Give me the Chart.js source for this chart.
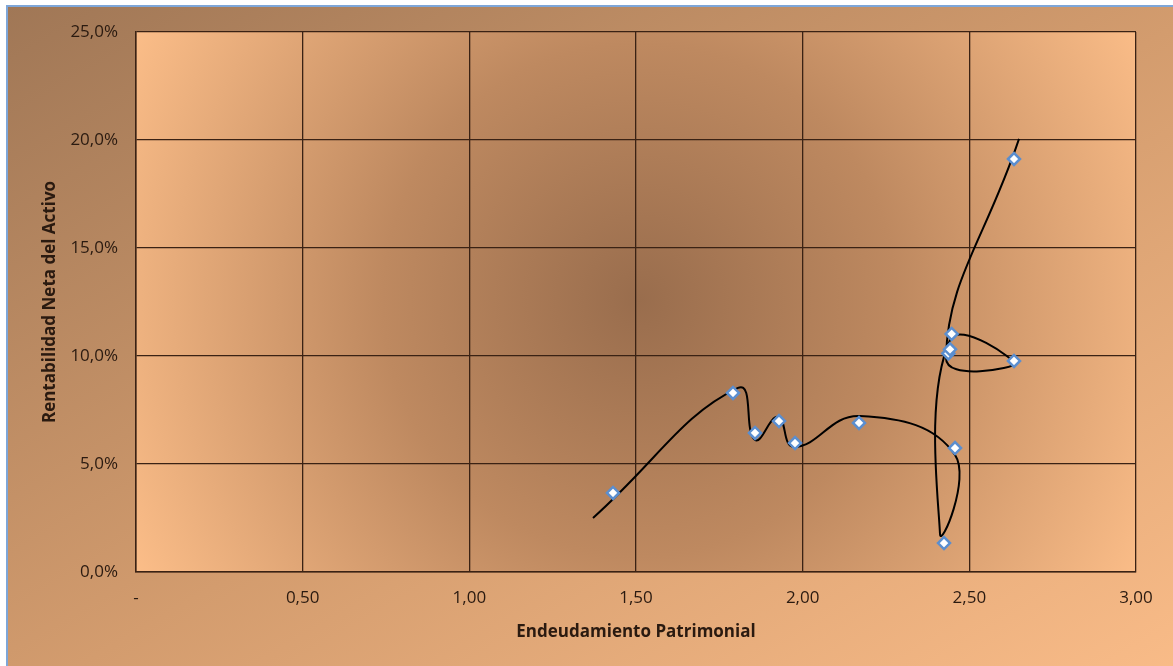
<!DOCTYPE html>
<html>
<head>
<meta charset="utf-8">
<script src="https://cdn.jsdelivr.net/npm/chart.js@4.4.1/dist/chart.umd.min.js"></script>
<style>
  html, body { margin: 0; padding: 0; width: 1173px; height: 666px; overflow: hidden; background: #ffffff; }
  #frame {
    position: absolute; left: 6px; top: 5px; width: 1200px; height: 700px;
    border-left: 2px solid #7ea6d8; border-top: 2px solid #7ea6d8;
    background: linear-gradient(to bottom right, #a07756 0%, #d39c6e 50%, #fcbe8a 100%);
  }
  #wrap { position: absolute; left: 0; top: 0; width: 1173px; height: 666px; }
</style>
</head>
<body>
<div id="frame"></div>
<div id="wrap"><canvas id="chart" width="1173" height="666"></canvas></div>
<script>
// Endeudamiento Patrimonial (x) vs Rentabilidad Neta del Activo (y, %)
const deuda = [1.431, 1.791, 1.857, 1.929, 1.977, 2.169, 2.424, 2.457, 2.437, 2.442, 2.447, 2.634, 2.634];
const rentab = [3.66, 8.29, 6.44, 6.99, 5.97, 6.90, 1.34, 5.74, 10.12, 10.31, 11.02, 9.77, 19.12];

// smoothed black line (separate series)
const curvaX = [1.371, 1.806, 1.857, 1.926, 1.974, 2.172, 2.457, 2.412, 2.442, 2.637, 2.430, 2.649];
const curvaY = [2.50, 8.52, 6.11, 7.18, 5.79, 7.22, 5.42, 1.76, 10.74, 9.63, 9.91, 20.05];

const xTicks = [0, 0.5, 1, 1.5, 2, 2.5, 3];
const yTicks = [0, 5, 10, 15, 20, 25];

const FONT = "'Open Sans', Lato, sans-serif";
const INK = "#2a1a10";
const GRID = "#3a2214";

// radial shading of the plot area
const plotBg = {
  id: "plotBg",
  beforeDraw(chart) {
    const a = chart.chartArea;
    const ctx = chart.ctx;
    const cx = chart.scales.x.getPixelForValue(1.51);
    const cy = chart.scales.y.getPixelForValue(12.6);
    const g = ctx.createRadialGradient(cx, cy, 0, cx, cy, 570);
    g.addColorStop(0, "#996d4d");
    g.addColorStop(0.45, "#be8960");
    g.addColorStop(1, "#fbbd88");
    ctx.save();
    ctx.fillStyle = g;
    ctx.fillRect(a.left, a.top, a.right - a.left, a.bottom - a.top);
    ctx.restore();
  }
};

new Chart(document.getElementById("chart"), {
  type: "scatter",
  data: {
    datasets: [
      {
        label: "curva",
        data: curvaX.map((x, i) => ({ x, y: curvaY[i] })),
        showLine: true,
        tension: 0.45,
        borderColor: "#000000",
        borderWidth: 2,
        pointRadius: 0,
        fill: false,
        order: 2
      },
      {
        label: "datos",
        data: deuda.map((x, i) => ({ x, y: rentab[i] })),
        showLine: false,
        pointStyle: "rectRot",
        pointRadius: 6,
        pointBorderWidth: 2.5,
        pointBorderColor: "#5b8ecf",
        pointBackgroundColor: "#ffffff",
        order: 1
      }
    ]
  },
  options: {
    responsive: false,
    animation: false,
    layout: { padding: { left: 20, top: 32, right: 37, bottom: 0 } },
    plugins: { legend: { display: false }, tooltip: { enabled: false } },
    scales: {
      x: {
        type: "linear",
        min: 0, max: 3,
        afterBuildTicks: s => { s.ticks = xTicks.map(v => ({ value: v })); },
        afterFit: s => { s.height = 666 - 572; },
        grid: { color: GRID, lineWidth: 1.3, drawTicks: false },
        border: { color: GRID, width: 1.5 },
        ticks: {
          padding: 16,
          color: INK,
          font: { family: FONT, size: 17 },
          callback: v => v === 0 ? "-" : v.toFixed(2).replace(".", ",")
        },
        title: {
          display: true,
          text: "Endeudamiento Patrimonial",
          color: INK,
          font: { family: FONT, size: 17, weight: "bold" },
          padding: { top: 0, bottom: 24 }
        }
      },
      y: {
        type: "linear",
        min: 0, max: 25,
        afterBuildTicks: s => { s.ticks = yTicks.map(v => ({ value: v })); },
        afterFit: s => { s.width = 136 - 20; },
        grid: { color: GRID, lineWidth: 1.3, drawTicks: false },
        border: { color: GRID, width: 1.5 },
        ticks: {
          padding: 18,
          color: INK,
          font: { family: FONT, size: 17 },
          callback: v => v.toFixed(1).replace(".", ",") + "%"
        },
        title: {
          display: true,
          text: "Rentabilidad Neta del Activo",
          color: INK,
          font: { family: FONT, size: 17, weight: "bold" },
          padding: { top: 20, bottom: 0 }
        }
      }
    }
  },
  plugins: [plotBg]
});
</script>
</body>
</html>
